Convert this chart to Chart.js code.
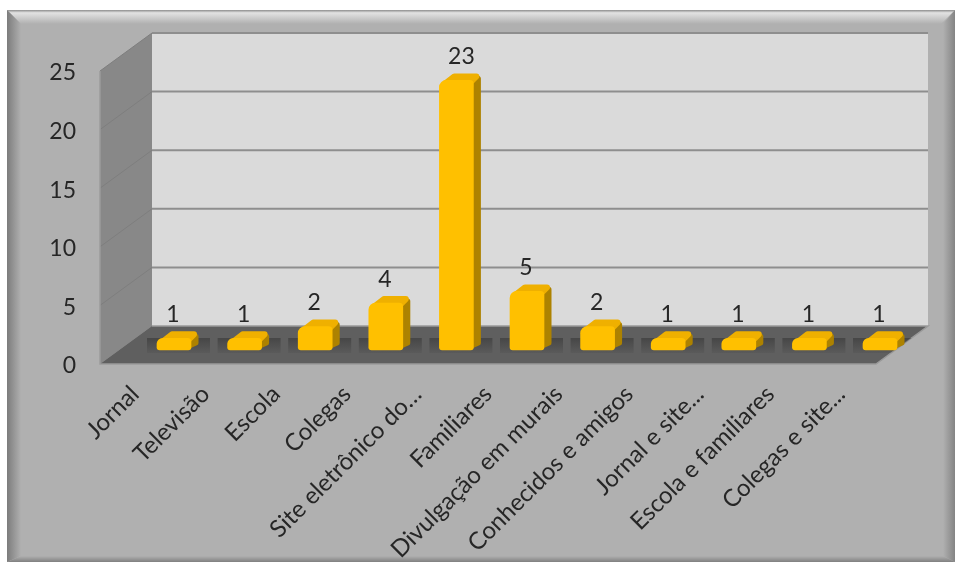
<!DOCTYPE html>
<html>
<head>
<meta charset="utf-8">
<style>
  html, body { margin: 0; padding: 0; background: #fff; }
  #wrap { width: 958px; height: 563px; }
</style>
<script src="https://cdn.jsdelivr.net/npm/chart.js@4/dist/chart.umd.min.js"></script>
</head>
<body>
<div id="wrap"><canvas id="chart" width="958" height="563"></canvas></div>
<script>
const categories = ["Jornal", "Televisão", "Escola", "Colegas", "Site eletrônico do…", "Familiares",
    "Divulgação em murais", "Conhecidos e amigos", "Jornal e site...", "Escola e familiares", "Colegas e site..."];
const values = [1, 1, 2, 4, 23, 5, 2, 1, 1, 1, 1];
const yTicks = [0, 5, 10, 15, 20, 25];

// pixels per unit on the two axes, used to line the planes up
const unitX = 70.6;
const unitY = 11.72;
// front edge of the floor, measured from the plane the bars stand in
const frontDY = 14;
// back wall sits this far from the front edge of the floor
const depthX = 52;
const depthY = -38;
// bar depth
const barDX = 9;
const barDY = -8;

const textColor = "#262626";
const fontName = "Lato, 'Open Sans', sans-serif";

// frame, walls, floor - everything behind the bars
const backdrop = {
    id: "backdrop",
    beforeDraw(chart) {
        const c = chart.ctx;
        const L = 7, T = 10, R = 955, B = 562;
        c.save();
        c.fillStyle = "#b0b0b0";
        c.fillRect(L, T, R - L, B - T);

        // bevel
        let g = c.createLinearGradient(0, T, 0, T + 14);
        g.addColorStop(0, "#8c8c8c");
        g.addColorStop(0.2, "#e2e2e2");
        g.addColorStop(1, "#b0b0b0");
        c.fillStyle = g;
        trap(c, [L, T], [R, T], [R - 14, T + 14], [L + 14, T + 14]);

        g = c.createLinearGradient(L, 0, L + 14, 0);
        g.addColorStop(0, "#7c7c7c");
        g.addColorStop(1, "#b0b0b0");
        c.fillStyle = g;
        trap(c, [L, T], [L + 14, T + 14], [L + 14, B - 6], [L, B]);

        g = c.createLinearGradient(R - 12, 0, R, 0);
        g.addColorStop(0, "#b0b0b0");
        g.addColorStop(1, "#848484");
        c.fillStyle = g;
        trap(c, [R, T], [R - 12, T + 14], [R - 12, B - 6], [R, B]);

        g = c.createLinearGradient(0, B - 6, 0, B);
        g.addColorStop(0, "#b0b0b0");
        g.addColorStop(1, "#808080");
        c.fillStyle = g;
        trap(c, [L, B], [L + 14, B - 6], [R - 12, B - 6], [R, B]);
        c.restore();
    },
    beforeDatasetsDraw(chart) {
        const c = chart.ctx;
        const xf = chart.scales.xFront;
        const ys = chart.scales.y;
        const frontY = v => ys.getPixelForValue(v) + frontDY;
        const left = xf.left;
        const right = xf.right - depthX;
        const y0 = frontY(0);
        const yTop = frontY(25);
        c.save();

        // back wall
        c.fillStyle = "#dadada";
        c.fillRect(left + depthX, yTop + depthY, right - left, y0 - yTop);

        // left wall
        c.fillStyle = "#888888";
        trap(c, [left, yTop], [left + depthX, yTop + depthY], [left + depthX, y0 + depthY], [left, y0]);

        // floor
        c.fillStyle = "#5f5f5f";
        trap(c, [left, y0], [left + depthX, y0 + depthY], [right + depthX, y0 + depthY], [right, y0]);

        // gridlines
        yTicks.forEach(v => {
            const y = frontY(v);
            if (v > 0) {
                c.strokeStyle = "#8e8e8e";
                c.lineWidth = 2;
                c.beginPath();
                c.moveTo(left + depthX, y + depthY);
                c.lineTo(right + depthX, y + depthY);
                c.stroke();
                c.strokeStyle = "#7e7e7e";
                c.lineWidth = 1;
                c.beginPath();
                c.moveTo(left, y);
                c.lineTo(left + depthX, y + depthY);
                c.stroke();
            }
        });
        c.strokeStyle = "#9a9a9a";
        c.lineWidth = 1.5;
        c.beginPath();
        c.moveTo(left, yTop);
        c.lineTo(left, y0);
        c.lineTo(right, y0);
        c.lineTo(right + depthX, y0 + depthY);
        c.lineTo(left + depthX, y0 + depthY);
        c.stroke();

        const meta = chart.getDatasetMeta(0);

        // slot shadow, stays on the floor
        c.save();
        c.beginPath();
        c.moveTo(left, y0);
        c.lineTo(left + depthX, y0 + depthY);
        c.lineTo(right + depthX, y0 + depthY);
        c.lineTo(right, y0);
        c.closePath();
        c.clip();
        meta.data.forEach(bar => {
            const l = bar.x - bar.width / 2;
            const b = bar.base;
            const sh = c.createLinearGradient(0, b - 12, 0, b + 3);
            sh.addColorStop(0, "rgba(50,50,50,0.55)");
            sh.addColorStop(1, "rgba(50,50,50,0.1)");
            c.fillStyle = sh;
            c.fillRect(l - 10, b - 12, bar.width + barDX + 20, 15);
        });
        c.restore();

        // 3d sides of the bars
        meta.data.forEach(bar => {
            const l = bar.x - bar.width / 2;
            const r = bar.x + bar.width / 2;
            const b = bar.base;
            const t = bar.y;

            c.lineJoin = "round";

            c.lineWidth = 5;
            c.fillStyle = "#ad8200";
            c.strokeStyle = "#ad8200";
            poly(c, [r - 4, t + 5], [r + barDX - 4, t + barDY + 6], [r + barDX - 4, b + barDY + 1], [r - 4, b - 3]);

            c.lineWidth = 6;
            c.fillStyle = "#efb000";
            c.strokeStyle = "#efb000";
            poly(c, [l + 6, t + 3], [l + barDX + 6, t + barDY + 4], [r + barDX - 6, t + barDY + 4], [r - 4, t + 3]);
        });
        c.restore();
    },
    afterDatasetsDraw(chart) {
        const c = chart.ctx;
        const meta = chart.getDatasetMeta(0);
        c.save();
        c.fillStyle = textColor;
        c.font = "23px " + fontName;
        c.textAlign = "center";
        c.textBaseline = "middle";
        meta.data.forEach((bar, i) => {
            c.fillText(String(values[i]), bar.x + (values[i] > 9 ? 5 : -1), bar.y + barDY - 16);
        });
        c.restore();
    }
};

function trap(c, a, b, d, e) {
    c.beginPath();
    c.moveTo(a[0], a[1]);
    c.lineTo(b[0], b[1]);
    c.lineTo(d[0], d[1]);
    c.lineTo(e[0], e[1]);
    c.closePath();
    c.fill();
}

function poly(c, a, b, d, e) {
    trap(c, a, b, d, e);
    c.stroke();
}

function barFill(ctx) {
    const bar = ctx.element;
    if (!bar || bar.width === undefined) return "#ffc000";
    const l = bar.x - bar.width / 2;
    const g = ctx.chart.ctx.createLinearGradient(l, 0, l + bar.width, 0);
    g.addColorStop(0, "#eeb000");
    g.addColorStop(0.12, "#ffc000");
    g.addColorStop(0.85, "#ffc000");
    g.addColorStop(1, "#f2b400");
    return g;
}

new Chart(document.getElementById("chart"), {
    type: "bar",
    data: {
        datasets: [{
            data: values.map((v, i) => ({ x: i, y: v })),
            xAxisID: "x",
            yAxisID: "y",
            backgroundColor: barFill,
            borderWidth: 0,
            borderRadius: { topLeft: 7, topRight: 4, bottomLeft: 3, bottomRight: 3 },
            borderSkipped: false,
            barThickness: 34
        }]
    },
    options: {
        responsive: false,
        animation: false,
        layout: { padding: { top: 33, right: 30 } },
        plugins: { legend: { display: false }, tooltip: { enabled: false } },
        scales: {
            // plane the bars stand in, a bit behind the front edge of the floor
            x: {
                type: "linear", display: false, offset: false,
                min: -(74 / unitX),
                max: (928 - 174) / unitX
            },
            y: {
                display: false,
                min: -(14 / unitY),
                max: (350 - 33) / unitY
            },
            // front edge of the floor, carries the labels
            xFront: {
                type: "linear", position: "bottom", offset: false,
                min: -(35 / unitX),
                max: (928 - 135) / unitX,
                grid: { display: false },
                border: { display: false },
                afterBuildTicks(axis) {
                    axis.ticks = categories.map((_, i) => ({ value: i }));
                },
                afterFit(axis) { axis.height = 563 - 364; },
                ticks: {
                    autoSkip: false,
                    minRotation: 45,
                    maxRotation: 45,
                    padding: 8,
                    color: textColor,
                    font: { family: fontName, size: 24 },
                    callback: v => categories[v]
                }
            },
            // 2px lower than the walls so the numbers sit where the reference has them
            yFront: {
                type: "linear", position: "left",
                min: 2 / unitY,
                max: (366 - 33) / unitY,
                grid: { display: false },
                border: { display: false },
                afterBuildTicks(axis) {
                    axis.ticks = yTicks.map(v => ({ value: v }));
                },
                afterFit(axis) { axis.width = 100; },
                ticks: {
                    padding: 16,
                    color: textColor,
                    font: { family: fontName, size: 23 }
                }
            }
        }
    },
    plugins: [backdrop]
});
</script>
</body>
</html>
